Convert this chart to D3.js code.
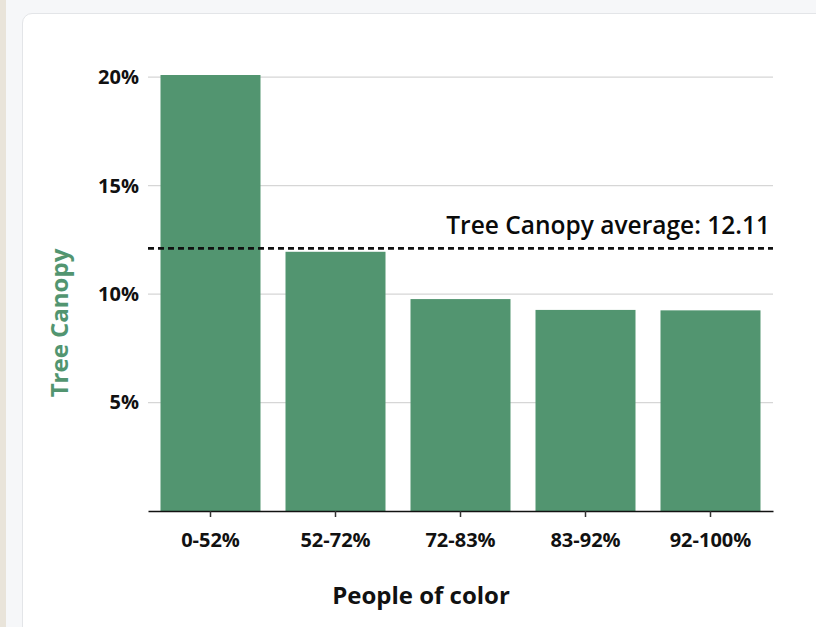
<!DOCTYPE html>
<html>
<head>
<meta charset="utf-8">
<script src="https://cdn.jsdelivr.net/npm/d3@7"></script>
<style>
  html, body { margin: 0; padding: 0; background: #f6f7f9; }
  body { width: 816px; height: 627px; overflow: hidden; position: relative; font-family: "Open Sans", sans-serif; }
  .strip { position: absolute; left: 0; top: 0; width: 6px; height: 627px; background: #e9e4da; }
  .card { position: absolute; left: 22px; top: 13px; width: 820px; height: 640px; background: #fff;
          border: 1px solid #e3e5e8; border-radius: 10px; }
  svg { position: absolute; left: 0; top: 0; }
  .grid line { stroke: #d6d6d6; stroke-width: 1.2px; }
  .y-axis text, .x-axis text { font-family: "Open Sans", sans-serif; font-size: 20px; font-weight: 700; fill: #111; }
</style>
</head>
<body>
<div class="strip"></div>
<div class="card"></div>
<svg id="chart" width="816" height="627"></svg>
<script>
const categories = ["0-52%", "52-72%", "72-83%", "83-92%", "92-100%"];
const canopy = [20.1, 11.95, 9.77, 9.27, 9.25];
const average = 12.11;
const yTicks = [5, 10, 15, 20];

const margin = { top: 75, right: 43, bottom: 116, left: 148 };
const width = 816, height = 627;

const svg = d3.select("#chart");

const x = d3.scaleBand()
  .domain(categories)
  .range([margin.left, width - margin.right])
  .paddingInner(0.2)
  .paddingOuter(0.1);

const y = d3.scaleLinear()
  .domain([0, d3.max(canopy)])
  .range([height - margin.bottom, margin.top]);

// gridlines
svg.append("g")
  .attr("class", "grid")
  .selectAll("line")
  .data(yTicks)
  .enter()
  .append("line")
  .attr("x1", margin.left)
  .attr("x2", width - margin.right)
  .attr("y1", d => y(d))
  .attr("y2", d => y(d));

// y axis labels
const yAxis = d3.axisLeft(y).tickValues(yTicks).tickSize(0).tickPadding(9)
  .tickFormat(d => d + "%");
svg.append("g")
  .attr("class", "y-axis")
  .attr("transform", "translate(" + margin.left + ",0)")
  .call(yAxis)
  .call(g => g.select(".domain").remove());

// bars
svg.append("g")
  .selectAll("rect")
  .data(categories)
  .enter()
  .append("rect")
  .attr("x", d => x(d))
  .attr("width", x.bandwidth())
  .attr("y", (d, i) => y(canopy[i]))
  .attr("height", (d, i) => y(0) - y(canopy[i]))
  .attr("fill", "#529570");

// x axis
const xAxis = d3.axisBottom(x).tickSize(6).tickSizeOuter(0).tickPadding(16);
svg.append("g")
  .attr("class", "x-axis")
  .attr("transform", "translate(0," + y(0) + ")")
  .call(xAxis)
  .call(g => g.select(".domain").attr("stroke", "#111").attr("stroke-width", 1.5))
  .call(g => g.selectAll(".tick line").attr("stroke", "#333").attr("stroke-width", 1.5));

// average line
svg.append("line")
  .attr("x1", margin.left)
  .attr("x2", width - margin.right)
  .attr("y1", y(average))
  .attr("y2", y(average))
  .attr("stroke", "#111")
  .attr("stroke-width", 2.8)
  .attr("stroke-dasharray", "6,4");

svg.append("text")
  .attr("x", width - margin.right - 3)
  .attr("y", y(average) - 14)
  .attr("text-anchor", "end")
  .attr("font-size", "24.5px")
  .attr("font-weight", 600)
  .attr("fill", "#0a0a0a")
  .text("Tree Canopy average: " + average);

// axis titles
svg.append("text")
  .attr("x", 421)
  .attr("y", 604)
  .attr("text-anchor", "middle")
  .attr("font-size", "24px")
  .attr("font-weight", 700)
  .attr("fill", "#111")
  .text("People of color");

svg.append("text")
  .attr("transform", "translate(68,323) rotate(-90)")
  .attr("text-anchor", "middle")
  .attr("font-size", "24px")
  .attr("font-weight", 700)
  .attr("fill", "#529570")
  .text("Tree Canopy");
</script>
</body>
</html>
